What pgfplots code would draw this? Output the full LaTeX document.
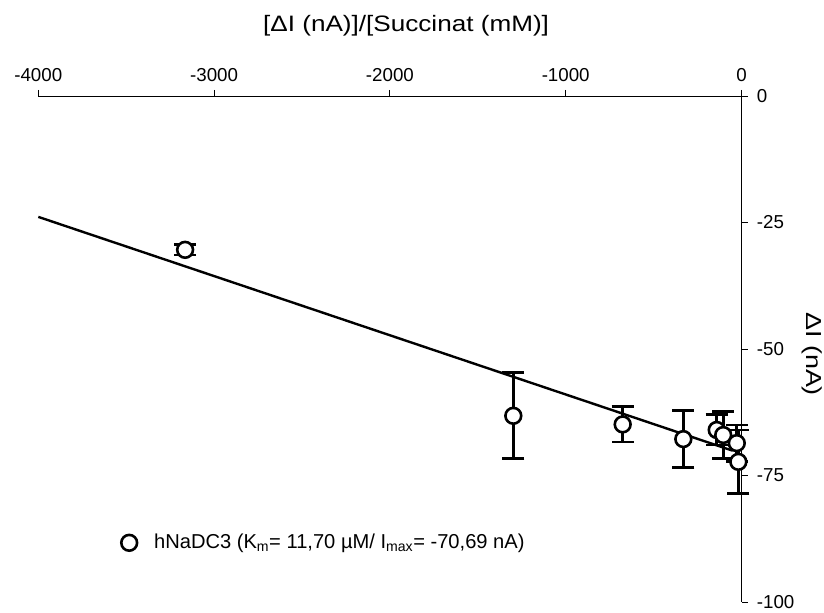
\documentclass[border=0pt]{standalone}
\usepackage{fontspec}
\setmainfont{Liberation Sans}
\newfontfamily\widefont[FakeStretch=1.17]{Liberation Sans}
\newfontfamily\widerfont[FakeStretch=1.24]{Liberation Sans}
\usepackage{pgfplots}
\usepackage{pgfplotstable}
\pgfplotsset{compat=1.18}
\pgfplotstableread{
x y e
-3165 -30.4 1.0
-1298 -63.2 8.5
-676 -64.9 3.5
-331 -67.8 5.6
-141 -66.0 3.0
-104 -67.0 4.7
-27 -68.6 3.6
-18 -72.3 6.3
}\datatable
\begin{document}
\fontsize{18.5}{22}\selectfont
\begin{tikzpicture}
\useasboundingbox (0,0) rectangle (824bp,613bp);
\begin{axis}[
  at={(38.3bp,11bp)}, anchor=south west,
  width=703.2bp, height=506bp, scale only axis,
  xmin=-4000, xmax=0, ymin=-100, ymax=0,
  axis x line=top, axis y line=right,
  axis line style={-, line width=0.9bp, black},
  xtick={-4000,-3000,...,0}, ytick={-100,-75,...,0},
  tick style={line width=0.9bp, black},
  major tick length=6bp,
  tick align=outside,
  /pgf/number format/assume math mode=true,
  /pgf/number format/1000 sep={},
  ticklabel style={font=\fontsize{18.8}{22}\selectfont},
  xticklabel style={yshift=2bp},
  yticklabel style={xshift=3bp},
  xlabel={[ΔI (nA)]/[Succinat (mM)]},
  xlabel style={at={(axis description cs:0.523,1.138)}, anchor=center, font=\widefont\fontsize{22.4}{26}\selectfont},
  ylabel={ΔI (nA)},
  ylabel style={at={(axis description cs:1.0998,0.49)}, anchor=center, rotate=180, font=\widerfont\fontsize{21.8}{26}\selectfont},
  clip=false,
  legend style={draw=none, fill=none, at={(axis cs:-3529,-88.3)}, anchor=west, inner sep=0pt, font=\fontsize{20.2}{24}\selectfont},
  legend cell align=left,
]
\addplot[black, line width=2.4bp, forget plot] coordinates {(-4000,-23.89) (-50,-70.10)};
\addplot[only marks, mark=*, mark size=7.9bp,
  mark options={line width=2.6bp, fill=white, draw=black},
  error bars/.cd, y dir=both, y explicit,
  error bar style={line width=2.6bp, black},
  error mark options={line width=2.6bp, black, mark size=11bp, rotate=90}]
  table[x=x, y=y, y error=e]{\datatable};
\addlegendentry{\hspace{15bp}hNaDC3 (K\textsubscript{m}= 11,70 µM/ I\textsubscript{max}= -70,69 nA)}
\end{axis}
\end{tikzpicture}
\end{document}
